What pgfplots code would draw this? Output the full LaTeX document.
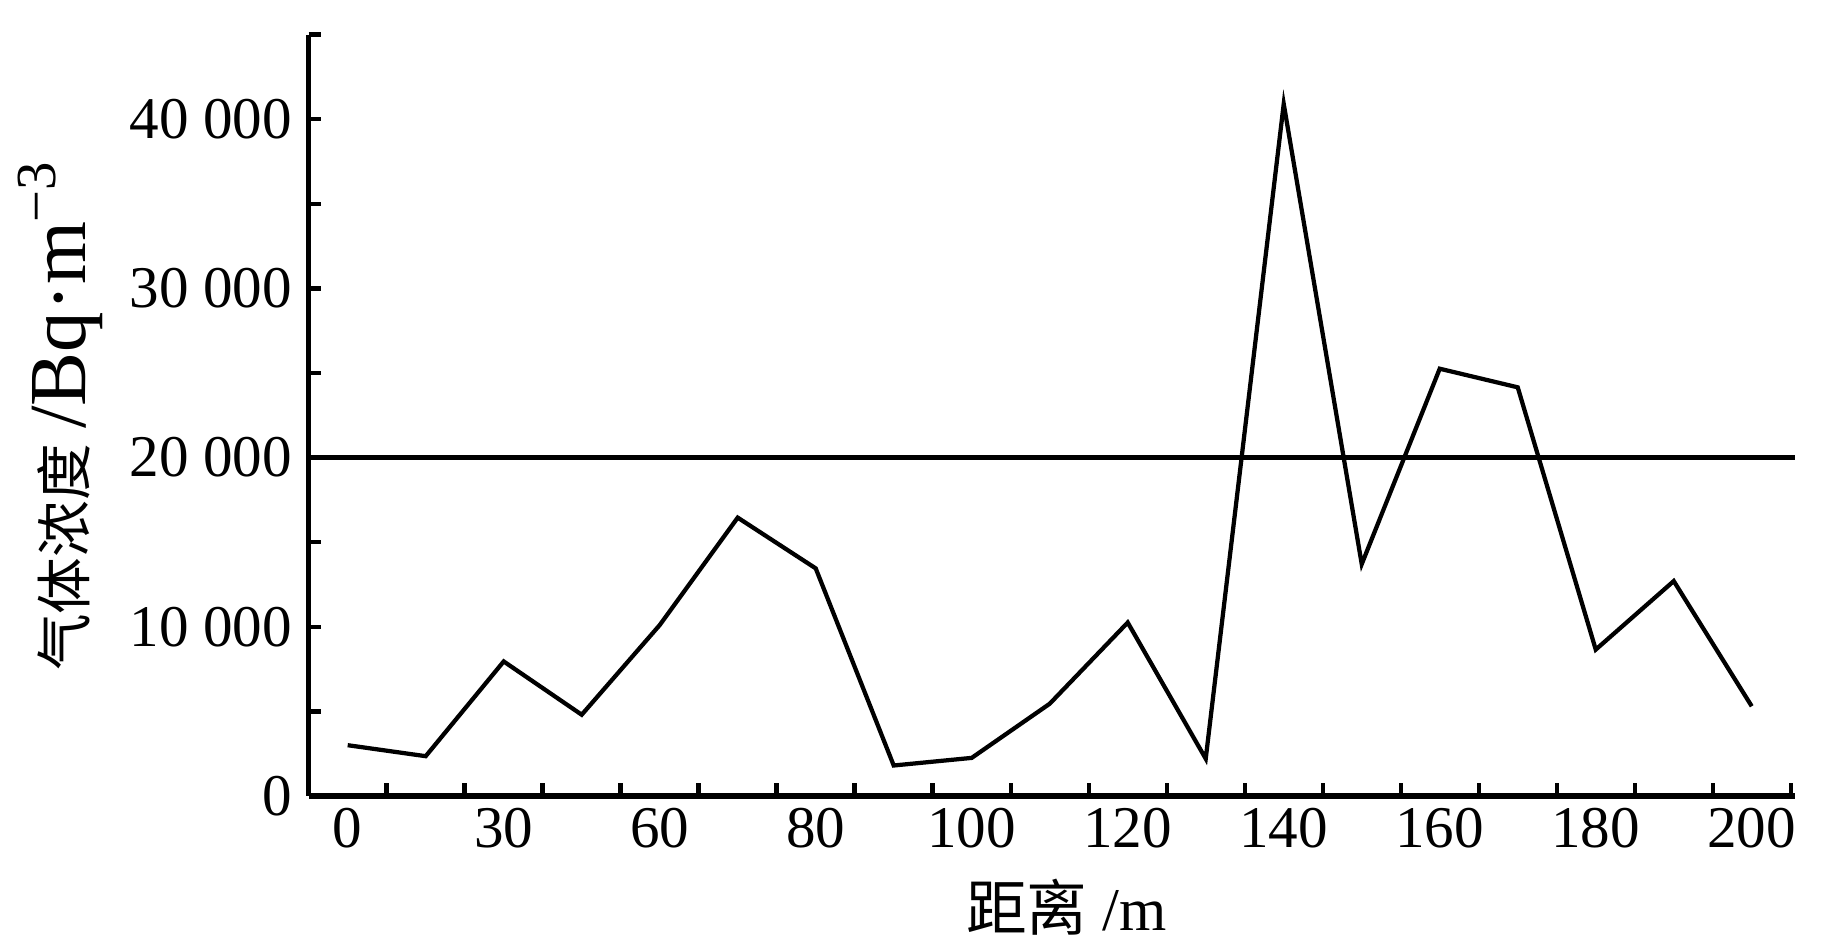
\documentclass[border=0pt]{standalone}
\usepackage{fontspec}
\setmainfont{Liberation Serif}
\newfontfamily\cjk{Noto Sans CJK SC}
\usepackage{pgfplots}
\pgfplotsset{compat=1.18}

\begin{document}
\begin{tikzpicture}
\begin{axis}[
  scale only axis, width=12.9cm, height=6.61cm,
  xmin=-0.5, xmax=18.55, ymin=0, ymax=45000,
  axis lines=left, axis line style={line width=1.3pt, -},
  scaled y ticks=false,
  xtick={0,2,...,18},
  xticklabels={0,30,60,80,100,120,140,160,180,200},
  minor xtick={0.5,1.5,...,18.5},
  major x tick style={draw=none},
  ytick={0,10000,20000,30000,40000},
  yticklabels={0,10 000,20 000,30 000,40 000},
  minor ytick={5000,15000,25000,35000,45000},
  tick align=inside,
  every tick/.style={black, line width=1.1pt},
  major tick length=0.11cm, minor tick length=0.11cm,
  tick label style={font=\fontsize{14.6}{17}\selectfont, black},
  xticklabel style={yshift=0.02cm},
  yticklabel style={xshift=-0.02cm},
  xlabel={{\cjk 距离} /m},
  ylabel={{\cjk\fontsize{14}{16}\selectfont 气体浓度} {\fontsize{20}{23}\selectfont /Bq·m\textsuperscript{\char"2212 3}}},
  label style={font=\fontsize{15}{18}\selectfont},
  xlabel style={at={(axis description cs:0.51,0)}, anchor=north, yshift=-0.6cm},
  ylabel style={at={(axis description cs:-0.167,0.5)}, anchor=center, rotate=0},
  clip=false,
]
\addplot[black, line width=1.05pt] coordinates {
  (0,3000) (1,2350) (2,7950) (3,4800) (4,10100) (5,16450) (6,13450)
  (7,1800) (8,2250) (9,5450) (10,10250) (11,2200) (12,40900) (13,13700)
  (14,25250) (15,24150) (16,8650) (17,12700) (18,5300)
};
\addplot[black, line width=1.05pt] coordinates {(-0.5,20000) (18.55,20000)};
\path (rel axis cs:0,0) ++(-2.68cm,-1.29cm);
\path (rel axis cs:1,1) ++(0.42cm,0.30cm);
\end{axis}
\end{tikzpicture}
\end{document}
